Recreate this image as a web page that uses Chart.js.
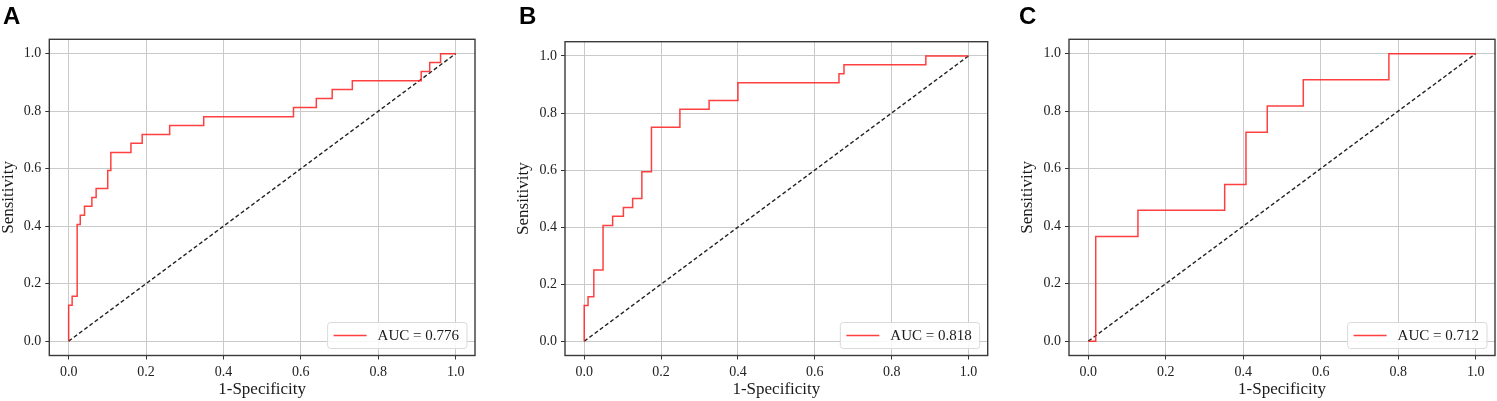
<!DOCTYPE html>
<html>
<head>
<meta charset="utf-8">
<script src="https://cdn.jsdelivr.net/npm/chart.js@4.4.1/dist/chart.umd.min.js"></script>
<style>
  html, body { margin: 0; padding: 0; background: #fff; }
  #wrap { position: relative; width: 1497px; height: 401px; overflow: hidden; }
  canvas { position: absolute; top: 0; }
  .tag { position: absolute; top: 2px; font: bold 24px 'Liberation Sans', Arial, sans-serif; color: #000; }
</style>
</head>
<body>
<div id="wrap">
  <canvas id="rocA" width="499" height="401" style="left:0px"></canvas>
  <canvas id="rocB" width="499" height="401" style="left:499px"></canvas>
  <canvas id="rocC" width="499" height="401" style="left:998px"></canvas>
  <div class="tag" style="left:3px">A</div>
  <div class="tag" style="left:519px">B</div>
  <div class="tag" style="left:1019px">C</div>
</div>
<script>
// ROC steps: x where sensitivity jumps, and the level it jumps to
const stepFprA = [0, 0.009, 0.022, 0.030, 0.041, 0.060, 0.071, 0.101, 0.109, 0.161, 0.190, 0.261, 0.349, 0.581, 0.640, 0.681, 0.733, 0.911, 0.933, 0.961];
const stepTprA = [0.125, 0.156, 0.406, 0.438, 0.469, 0.5, 0.531, 0.594, 0.656, 0.688, 0.719, 0.75, 0.781, 0.813, 0.844, 0.875, 0.906, 0.938, 0.969, 1.0];

const stepFprB = [0, 0.010, 0.025, 0.049, 0.074, 0.102, 0.126, 0.150, 0.175, 0.249, 0.325, 0.400, 0.663, 0.676, 0.889];
const stepTprB = [0.125, 0.156, 0.25, 0.406, 0.438, 0.469, 0.5, 0.594, 0.75, 0.813, 0.844, 0.906, 0.938, 0.969, 1.0];

const stepFprC = [0.019, 0.128, 0.352, 0.407, 0.462, 0.555, 0.776];
const stepTprC = [0.364, 0.455, 0.545, 0.727, 0.818, 0.909, 1.0];

const aucLabels = ['AUC = 0.776', 'AUC = 0.818', 'AUC = 0.712'];
const diagX = [0, 1];
const diagY = [0, 1];
const tickVals = [0, 0.2, 0.4, 0.6, 0.8, 1.0];
const xTitle = '1-Specificity';
const yTitle = 'Sensitivity';

const SERIF = "'Liberation Serif', 'Times New Roman', serif";

// turn step list into corner points (horizontal then vertical)
function corners(xs, ys) {
  const pts = [{ x: 0, y: 0 }];
  let prev = 0;
  for (let i = 0; i < xs.length; i++) {
    pts.push({ x: xs[i], y: prev });
    pts.push({ x: xs[i], y: ys[i] });
    prev = ys[i];
  }
  pts.push({ x: 1, y: prev });
  return pts;
}

// frame on all four sides
const framePlugin = {
  id: 'frame',
  afterDraw(chart) {
    const a = chart.chartArea, ctx = chart.ctx;
    ctx.save();
    ctx.strokeStyle = '#3a3a3a';
    ctx.lineWidth = 1.4;
    ctx.strokeRect(a.left, a.top, a.right - a.left, a.bottom - a.top);
    ctx.restore();
  }
};

// legend box in lower right of plot area
const legendPlugin = {
  id: 'innerLegend',
  afterDraw(chart) {
    const ds = chart.data.datasets[0];
    const a = chart.chartArea, ctx = chart.ctx;
    ctx.save();
    ctx.font = '15px ' + SERIF;
    const tw = ctx.measureText(ds.label).width;
    const w = 6 + 33 + 11 + tw + 8, h = 26;
    const x = a.right - 8 - w, y = a.bottom - 7 - h;
    ctx.beginPath();
    ctx.roundRect(x, y, w, h, 3);
    ctx.fillStyle = 'rgba(255,255,255,0.85)';
    ctx.fill();
    ctx.strokeStyle = '#dadada';
    ctx.lineWidth = 1;
    ctx.stroke();
    ctx.beginPath();
    ctx.moveTo(x + 6, y + h / 2);
    ctx.lineTo(x + 39, y + h / 2);
    ctx.strokeStyle = ds.borderColor;
    ctx.lineWidth = 1.5;
    ctx.stroke();
    ctx.fillStyle = '#1a1a1a';
    ctx.textBaseline = 'middle';
    ctx.fillText(ds.label, x + 50, y + h / 2 + 1);
    ctx.restore();
  }
};

function makeRoc(id, pts, label, lay) {
  const setTicks = s => { s.ticks = tickVals.map(v => ({ value: v })); };
  const tickOpts = {
    color: '#222',
    font: { family: SERIF, size: 14 },
    padding: 4,
    callback: v => Number(v).toFixed(1)
  };
  const grid = { color: '#cacaca', lineWidth: 1, tickColor: '#333', tickLength: 4 };
  return new Chart(document.getElementById(id), {
    type: 'line',
    data: {
      datasets: [{
        label: label,
        data: pts,
        borderColor: 'rgba(255,30,30,0.85)',
        borderWidth: 1.5,
        pointRadius: 0,
        tension: 0
      }, {
        label: 'chance',
        data: diagX.map((x, i) => ({ x, y: diagY[i] })),
        borderColor: '#222',
        borderWidth: 1.4,
        borderDash: [4, 2.5],
        pointRadius: 0
      }]
    },
    options: {
      responsive: false,
      animation: false,
      events: [],
      layout: { padding: { left: lay.padLeft, right: lay.padRight, top: lay.top, bottom: 0 } },
      plugins: { legend: { display: false }, tooltip: { enabled: false } },
      scales: {
        x: {
          type: 'linear', min: -0.05, max: 1.05,
          afterBuildTicks: setTicks,
          afterFit: s => { s.height = 401 - 355.5; },
          ticks: tickOpts,
          grid: grid,
          border: { display: false },
          title: { display: true, text: xTitle, color: '#1a1a1a',
                   font: { family: SERIF, size: 17, lineHeight: 1 }, padding: { top: 0, bottom: 2.5 } }
        },
        y: {
          type: 'linear', min: -0.05, max: 1.05,
          afterBuildTicks: setTicks,
          afterFit: s => { s.width = lay.yWidth; },
          ticks: tickOpts,
          grid: grid,
          border: { display: false },
          title: { display: true, text: yTitle, color: '#1a1a1a',
                   font: { family: SERIF, size: 17, lineHeight: 1 }, padding: { top: 0, bottom: 0 } }
        }
      }
    },
    plugins: [framePlugin, legendPlugin]
  });
}

makeRoc('rocA', corners(stepFprA, stepTprA), aucLabels[0], { padLeft: 0, yWidth: 49.3, padRight: 24, top: 39.3 });
makeRoc('rocB', corners(stepFprB, stepTprB), aucLabels[1], { padLeft: 16.5, yWidth: 49.5, padRight: 10.3, top: 41.7 });
makeRoc('rocC', corners(stepFprC, stepTprC), aucLabels[2], { padLeft: 21.5, yWidth: 49.5, padRight: 2, top: 39.3 });
</script>
</body>
</html>
